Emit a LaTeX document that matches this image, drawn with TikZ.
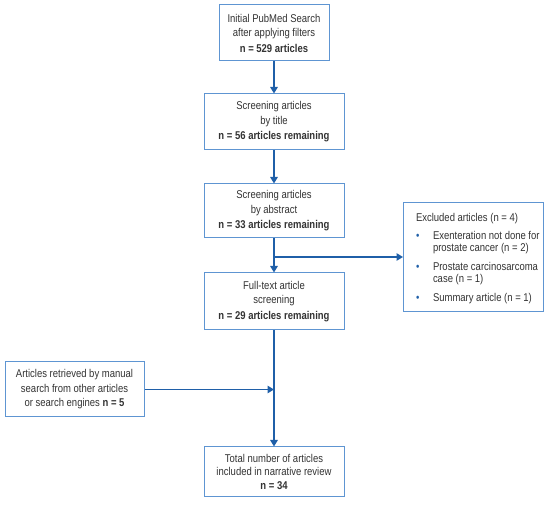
\documentclass[tikz,border=0pt]{standalone}
\usepackage{fontspec}
\usepackage{array}
\setmainfont{Liberation Sans}[FakeStretch=0.84]
\usetikzlibrary{arrows.meta,positioning,calc}
\definecolor{boxblue}{HTML}{5E95D2}
\definecolor{arrblue}{HTML}{1F5FA8}
\definecolor{txt}{HTML}{333333}
\tikzset{
  flowbox/.style={draw=boxblue, line width=1pt, fill=white, text=txt, align=center, inner sep=2pt, font=\fontsize{11.3}{14.5}\selectfont},
  flowarrow/.style={draw=arrblue, line width=1.3pt, -{Triangle[length=6.5pt,width=7.5pt]}},
}
\newcommand{\blt}{\textcolor{arrblue}{\textbullet}}
\begin{document}
\begin{tikzpicture}[x=1pt,y=-1pt]
\useasboundingbox (0,0) rectangle (550,508);
\node[flowbox, minimum width=110pt, minimum height=56pt] (b1) at (274,33)
  {Initial PubMed Search\\after applying filters\\[1pt]\textbf{n = 529 articles}};
\node[flowbox, minimum width=140pt, minimum height=56pt] (b2) at (274,122)
  {Screening articles\\by title\\[1pt]\textbf{n = 56 articles remaining}};
\node[flowbox, minimum width=140pt, minimum height=54pt] (b3) at (274,211)
  {Screening articles\\by abstract\\[1pt]\textbf{n = 33 articles remaining}};
\node[flowbox, minimum width=140pt, minimum height=57pt] (b4) at (274,301.5)
  {Full-text article\\screening\\[1pt]\textbf{n = 29 articles remaining}};
\node[flowbox, minimum width=140pt, minimum height=109pt, align=left, anchor=north west, inner sep=0pt, font=\fontsize{11.3}{12.5}\selectfont] (ex) at (403,202)
  {\begin{tabular}{@{\hspace{12pt}}>{\raggedright}p{17pt}@{}>{\raggedright\arraybackslash}p{110pt}@{}}
   \noalign{\vskip 4pt}
   \multicolumn{2}{@{\hspace{12pt}}l}{Excluded articles (n = 4)}\\\noalign{\vskip 5pt}
   \blt & Exenteration not done for prostate cancer (n = 2)\\\noalign{\vskip 6pt}
   \blt & Prostate carcinosarcoma case (n = 1)\\\noalign{\vskip 6pt}
   \blt & Summary article (n = 1)
   \end{tabular}};
\node[flowbox, minimum width=139pt, minimum height=55pt] (lb) at (74.5,389.5)
  {Articles retrieved by manual\\search from other articles\\or search engines \textbf{n = 5}};
\node[flowbox, minimum width=140pt, minimum height=49pt, font=\fontsize{11.3}{13.5}\selectfont] (fin) at (274,471.5)
  {Total number of articles\\included in narrative review\\\textbf{n = 34}};
\coordinate (j1) at (274,257);
\draw[flowarrow] (b1.south) -- (b2.north);
\draw[flowarrow] (b2.south) -- (b3.north);
\draw[flowarrow] (b3.south) -- (b4.north);
\draw[flowarrow] (j1) -- (j1 -| ex.west);
\draw[flowarrow] (b4.south) -- (fin.north);
\draw[flowarrow] (lb.east) -- (lb.east -| b4.south);
\end{tikzpicture}
\end{document}
